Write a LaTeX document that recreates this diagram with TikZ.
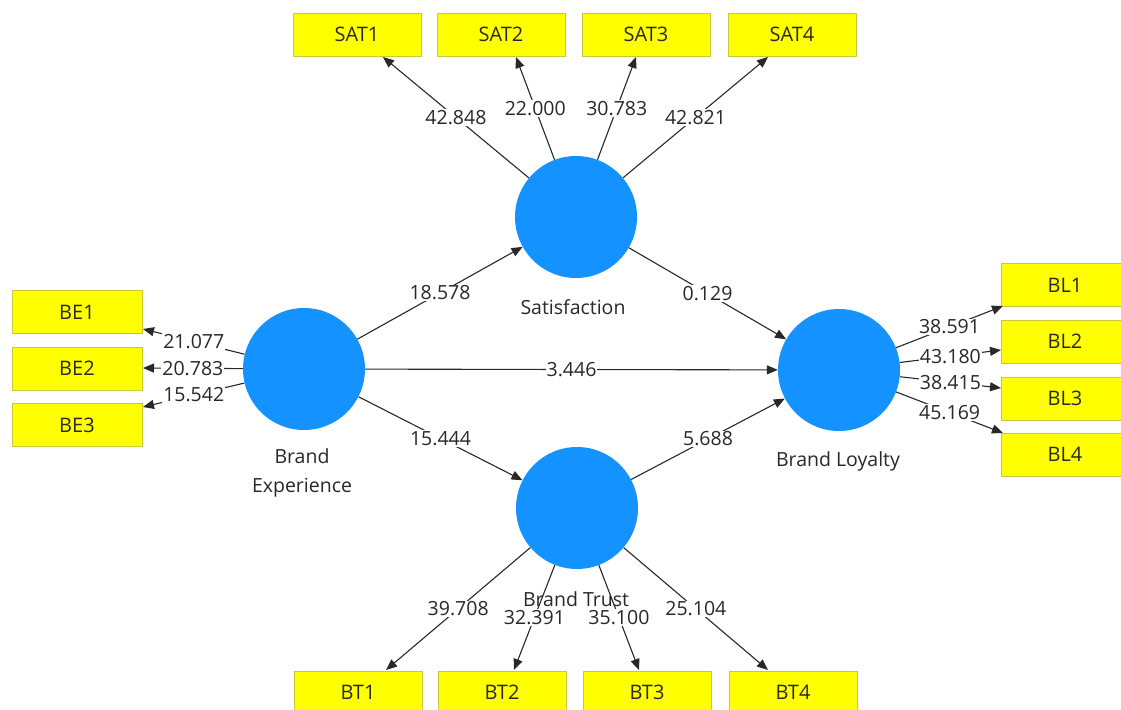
\documentclass[tikz,border=0pt]{standalone}
\usepackage{fontspec}
\setmainfont{Open Sans}
\usetikzlibrary{arrows.meta}
\definecolor{latentblue}{RGB}{20,146,255}
\definecolor{itemyellow}{RGB}{255,255,0}
\definecolor{itemedge}{RGB}{200,200,60}
\definecolor{inkgray}{RGB}{40,40,40}
\begin{document}
\begin{tikzpicture}[x=1pt,y=-1pt,
  latent/.style={circle, fill=latentblue, minimum size=122pt, inner sep=0pt},
  indicator/.style={draw=itemedge, line width=0.8pt, fill=itemyellow,
    minimum width=128pt, minimum height=43pt, inner sep=0pt,
    font=\fontsize{20}{24}\selectfont, text=inkgray},
  caption/.style={font=\fontsize{19.5}{29}\selectfont, text=inkgray, align=center},
  loading/.style={draw=inkgray, line width=1.1pt, -{Triangle[length=11pt,width=9pt]}},
  coef/.style={fill=white, inner sep=1pt, font=\fontsize{19.5}{22}\selectfont, text=inkgray},
]
\useasboundingbox (0,0) rectangle (1121,709);
\clip (0,0) rectangle (1121,709);
\fill[white] (0,0) rectangle (1121,709);

% latent constructs
\node[latent] (sat) at (576,217) {};
\node[latent] (be)  at (304,369) {};
\node[latent] (bl)  at (839,370) {};
\node[latent] (bt)  at (577,508) {};

\node[caption] (satcap) at (573,307) {Satisfaction};
\node[caption] (becap)  at (302,473) {Brand\\Experience};
\node[caption] (blcap)  at (838,461) {Brand Loyalty};

% indicators
\node[indicator] (sat1) at (357,34.5) {SAT1};
\node[indicator] (sat2) at (501,34.5) {SAT2};
\node[indicator] (sat3) at (646,34.5) {SAT3};
\node[indicator] (sat4) at (792,34.5) {SAT4};

\node[indicator, minimum width=130pt] (be1) at (77,312) {BE1};
\node[indicator, minimum width=130pt] (be2) at (77,368.5) {BE2};
\node[indicator, minimum width=130pt] (be3) at (77,425) {BE3};

\node[indicator] (bl1) at (1065,285) {BL1};
\node[indicator] (bl2) at (1065,341.5) {BL2};
\node[indicator] (bl3) at (1065,398.5) {BL3};
\node[indicator] (bl4) at (1065,454.5) {BL4};

\node[indicator] (bt1) at (358,692.5) {BT1};
\node[indicator] (bt2) at (502,692.5) {BT2};
\node[indicator] (bt3) at (647,692.5) {BT3};
\node[indicator] (bt4) at (793,692.5) {BT4};

% arrow end points on the indicator boxes
\coordinate (e-sat1) at (383,57);
\coordinate (e-sat2) at (516,57);
\coordinate (e-sat3) at (636,57);
\coordinate (e-sat4) at (768,57);
\coordinate (e-be1) at (143,329);
\coordinate (e-be2) at (143,368);
\coordinate (e-be3) at (143,407);
\coordinate (e-bl1) at (1003,306);
\coordinate (e-bl2) at (1001,350);
\coordinate (e-bl3) at (1001,388);
\coordinate (e-bl4) at (1003,433);
\coordinate (e-bt1) at (386,670);
\coordinate (e-bt2) at (514,670);
\coordinate (e-bt3) at (639,670);
\coordinate (e-bt4) at (768,670);

% structural paths
\draw[loading] (be) -- node[coef] (p1) {18.578} (sat);
\draw[loading] (be) -- node[coef] (p2) {3.446} (bl);
\draw[loading] (be) -- node[coef] (p3) {15.444} (bt);
\draw[loading] (sat) -- node[coef] (p4) {0.129} (bl);
\draw[loading] (bt) -- node[coef] (p5) {5.688} (bl);

% outer loadings
\draw[loading] (sat) -- node[coef] (l1) {42.848} (e-sat1);
\draw[loading] (sat) -- node[coef] (l2) {22.000} (e-sat2);
\draw[loading] (sat) -- node[coef] (l3) {30.783} (e-sat3);
\draw[loading] (sat) -- node[coef] (l4) {42.821} (e-sat4);

\draw[loading] (be) -- node[coef] (l5) {21.077} (e-be1);
\draw[loading] (be) -- node[coef] (l6) {20.783} (e-be2);
\draw[loading] (be) -- node[coef] (l7) {15.542} (e-be3);

\draw[loading] (bl) -- node[coef] (l8) {38.591} (e-bl1);
\draw[loading] (bl) -- node[coef] (l9) {43.180} (e-bl2);
\draw[loading] (bl) -- node[coef] (l10) {38.415} (e-bl3);
\draw[loading] (bl) -- node[coef] (l11) {45.169} (e-bl4);

\draw[loading] (bt) -- node[coef] (l12) {39.708} (e-bt1);
\draw[loading] (bt) -- node[coef] (l13) {32.391} (e-bt2);
\draw[loading] (bt) -- node[coef] (l14) {35.100} (e-bt3);
\draw[loading] (bt) -- node[coef] (l15) {25.104} (e-bt4);

\node[caption] (btcap) at (576,599) {Brand Trust};
\end{tikzpicture}
\end{document}
